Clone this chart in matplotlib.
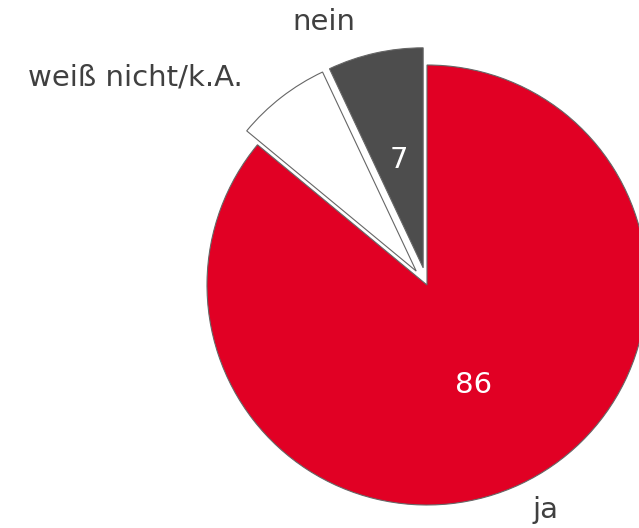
import matplotlib.pyplot as plt

# data
labels = ["ja", "weiß nicht/k.A.", "nein"]
values = [86, 7, 7]
colors = ["#E10024", "#FFFFFF", "#4D4D4D"]
explode = [0, 0.08, 0.08]

# label spots (data units, pie radius = 1), baseline anchored
label_pos = {"ja": (0.54, -1.06), "weiß nicht/k.A.": (-1.327, 0.909), "nein": (-0.468, 1.159)}

fig = plt.figure(figsize=(6.39, 5.28), dpi=100)
ax = fig.add_axes([0, 0, 1, 1])

wedges, texts, autotexts = ax.pie(
    values, colors=colors, explode=explode, startangle=90, counterclock=False,
    autopct="%d", pctdistance=0.5,
    wedgeprops=dict(edgecolor="#666666", linewidth=0.8),
    textprops=dict(color="white", fontsize=21),
)

for lab in labels:
    x, y = label_pos[lab]
    ax.text(x, y, lab, ha="center", va="baseline", fontsize=21, color="#404040")

ax.set_xlim(-427 / 220, 212 / 220)
ax.set_ylim(-243 / 220, 285 / 220)
ax.set_aspect("equal")
ax.axis("off")

fig.savefig("out.png", dpi=100)
